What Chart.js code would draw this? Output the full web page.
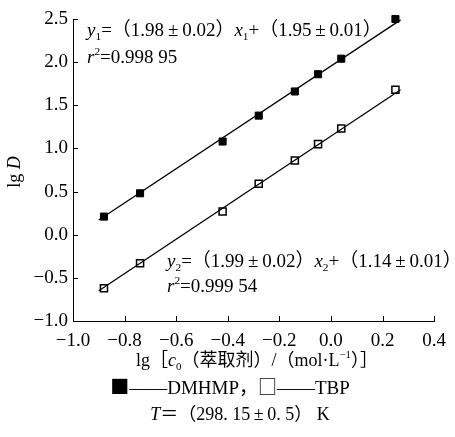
<!DOCTYPE html>
<html>
<head>
<meta charset="utf-8">
<script src="https://cdn.jsdelivr.net/npm/chart.js@4/dist/chart.umd.min.js"></script>
<style>
  html, body { margin: 0; padding: 0; background: #fff; }
  #box { width: 455px; height: 437px; }
</style>
</head>
<body>
<div id="box"><canvas id="lgCanvas"></canvas></div>
<script>
// Données
var xConc = [-0.88, -0.74, -0.42, -0.28, -0.14, -0.05, 0.04, 0.25];
var yDmhmp = [0.21, 0.48, 1.08, 1.38, 1.66, 1.86, 2.04, 2.50];
var yTbp = [-0.62, -0.33, 0.27, 0.59, 0.86, 1.05, 1.23, 1.68];
// Droites de régression (extrémités)
var fitX = [-0.90, 0.27];
var fitDmhmp = [0.17, 2.49];
var fitTbp = [-0.65, 1.68];

var SERIF = "'Liberation Serif', 'Noto Sans CJK SC', serif";
var CJK = "'Noto Sans CJK SC', sans-serif";
var FS = 19;
var PM = "\u2009\u00b1\u2009"; // ± avec espaces fines

function toPoints(xs, ys) {
  var pts = [];
  for (var i = 0; i < xs.length; i++) {
    pts.push({x: xs[i], y: ys[i]});
  }
  return pts;
}

function fmtTick(v) {
  if (Math.abs(v) < 1e-9) v = 0;
  var s = Math.abs(v).toFixed(1);
  return v < 0 ? "\u2212" + s : s;
}

// Texte avec indices / exposants / italique
function setFont(ctx, p, size) {
  var sz = (p.sub || p.sup) ? size * 0.6 : size;
  ctx.font = (p.it ? "italic " : "") + sz + "px " + (p.font || SERIF);
}

function richWidth(ctx, parts, size) {
  var w = 0;
  parts.forEach(function(p) {
    setFont(ctx, p, size);
    w += ctx.measureText(p.t).width;
  });
  return w;
}

function drawRich(ctx, parts, x, y, size, center) {
  if (center) x = x - richWidth(ctx, parts, size) / 2;
  ctx.textBaseline = "alphabetic";
  ctx.textAlign = "left";
  parts.forEach(function(p) {
    var dy = p.sub ? size * 0.22 : (p.sup ? -size * 0.42 : 0);
    setFont(ctx, p, size);
    ctx.fillText(p.t, x, y + dy);
    x += ctx.measureText(p.t).width;
  });
}

// Graduations intérieures + textes
var annotPlugin = {
  id: "annot",
  afterDraw: function(chart) {
    var ctx = chart.ctx;
    var xs = chart.scales.x, ys = chart.scales.y;
    var area = chart.chartArea;
    ctx.save();
    ctx.strokeStyle = "#000";
    ctx.lineWidth = 1;
    ctx.beginPath();
    xs.ticks.forEach(function(t) {
      var px = Math.round(xs.getPixelForValue(t.value)) + 0.5;
      ctx.moveTo(px, area.bottom);
      ctx.lineTo(px, area.bottom - 5);
    });
    ys.ticks.forEach(function(t) {
      var py = Math.round(ys.getPixelForValue(t.value)) + 0.5;
      ctx.moveTo(area.left, py);
      ctx.lineTo(area.left + 5, py);
    });
    ctx.stroke();

    ctx.fillStyle = "#000";
    // Equations
    drawRich(ctx, [{t: "y", it: 1}, {t: "1", sub: 1}, {t: "=\uff081.98" + PM + "0.02\uff09"},
      {t: "x", it: 1}, {t: "1", sub: 1}, {t: "+\uff081.95" + PM + "0.01\uff09"}], 87, 36, FS);
    drawRich(ctx, [{t: "r", it: 1}, {t: "2", sup: 1}, {t: "=0.998 95"}], 87, 63, FS);
    drawRich(ctx, [{t: "y", it: 1}, {t: "2", sub: 1}, {t: "=\uff081.99" + PM + "0.02\uff09"},
      {t: "x", it: 1}, {t: "2", sub: 1}, {t: "+\uff081.14" + PM + "0.01\uff09"}], 167, 267, FS);
    drawRich(ctx, [{t: "r", it: 1}, {t: "2", sup: 1}, {t: "=0.999 54"}], 167, 292, FS);

    // Titre axe X
    drawRich(ctx, [{t: "lg\uff3b"}, {t: "c", it: 1}, {t: "0", sub: 1},
      {t: "\uff08\u8403\u53d6\u5242\uff09/\uff08mol\u00b7L"}, {t: "\u22121", sup: 1}, {t: "\uff09\uff3d"}],
      257, 366, 18, true);
    // Légende
    drawRich(ctx, [{t: "\u25a0", font: CJK}, {t: "\u2014\u2014DMHMP\uff0c"}, {t: "\u25a1", font: CJK},
      {t: "\u2014\u2014TBP"}], 230, 394, 19, true);
    drawRich(ctx, [{t: "T", it: 1}, {t: "\uff1d\uff08298. 15" + PM + "0. 5\uff09 K"}], 240, 420, 18, true);

    // Titre axe Y
    ctx.translate(20, 172);
    ctx.rotate(-Math.PI / 2);
    drawRich(ctx, [{t: "lg "}, {t: "D", it: 1}], 0, 0, 18, true);
    ctx.restore();
  }
};

var dataGraph = {
  type: "scatter",
  data: {
    datasets: [
      {
        label: "DMHMP",
        data: toPoints(xConc, yDmhmp),
        pointStyle: "rect",
        pointRadius: 5,
        backgroundColor: "#000",
        borderColor: "#000",
        borderWidth: 1,
        clip: false,
        order: 0
      },
      {
        label: "TBP",
        data: toPoints(xConc, yTbp),
        pointStyle: "rect",
        pointRadius: 5,
        backgroundColor: "rgba(0,0,0,0)",
        borderColor: "#000",
        borderWidth: 1.5,
        clip: false,
        order: 0
      },
      {
        label: "fit DMHMP",
        data: toPoints(fitX, fitDmhmp),
        showLine: true,
        pointRadius: 0,
        borderColor: "#000",
        borderWidth: 1.3,
        clip: false,
        order: 1
      },
      {
        label: "fit TBP",
        data: toPoints(fitX, fitTbp),
        showLine: true,
        pointRadius: 0,
        borderColor: "#000",
        borderWidth: 1.3,
        clip: false,
        order: 1
      }
    ]
  },
  options: {
    responsive: true,
    maintainAspectRatio: false,
    animation: false,
    layout: {
      padding: {left: 0, right: 15, top: 19, bottom: 0}
    },
    scales: {
      x: {
        type: "linear",
        min: -1.0,
        max: 0.4,
        grid: {display: false, drawTicks: false},
        border: {display: true, color: "#000", width: 1},
        ticks: {
          stepSize: 0.2,
          color: "#000",
          padding: 9,
          font: {family: SERIF, size: FS},
          callback: fmtTick
        },
        afterFit: function(scale) { scale.height = 116; }
      },
      y: {
        type: "linear",
        min: -1.0,
        max: 2.5,
        grid: {display: false, drawTicks: false},
        border: {display: true, color: "#000", width: 1},
        ticks: {
          stepSize: 0.5,
          color: "#000",
          padding: 5,
          font: {family: SERIF, size: FS},
          callback: fmtTick
        },
        afterFit: function(scale) { scale.width = 73; }
      }
    },
    plugins: {
      legend: {display: false},
      tooltip: {enabled: false}
    }
  },
  plugins: [annotPlugin]
};

var myChart = new Chart(document.getElementById("lgCanvas"), dataGraph);
</script>
</body>
</html>
